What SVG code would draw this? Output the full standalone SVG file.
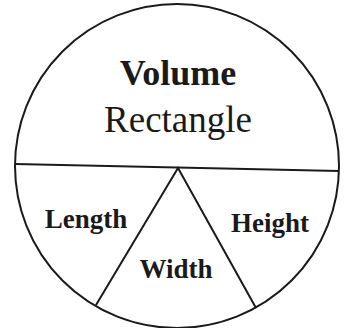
<svg xmlns="http://www.w3.org/2000/svg" width="344" height="328" viewBox="0 0 344 328">
<style>
.ln{fill:none;stroke:#1a1a1a;stroke-width:2}
.t{font-family:"Liberation Serif","Times New Roman",serif;fill:#1a1a1a;text-anchor:middle}
.b{font-weight:bold}
</style>
<rect width="344" height="328" fill="#fff"/>
<g id="connectors">
<circle class="ln" cx="177" cy="166" r="162"/>
<line class="ln" x1="15" y1="164" x2="339" y2="171"/>
<polyline class="ln" points="96,305 178,168 256,308"/>
</g>
<g id="volume"><text class="t b" x="178" y="85" font-size="36">Volume</text>
<text class="t" x="178" y="132" font-size="37">Rectangle</text></g>
<g id="length"><text class="t b" x="86" y="228" font-size="27">Length</text></g>
<g id="width"><text class="t b" x="176" y="278" font-size="27">Width</text></g>
<g id="height"><text class="t b" x="270" y="232" font-size="27">Height</text></g>
</svg>
